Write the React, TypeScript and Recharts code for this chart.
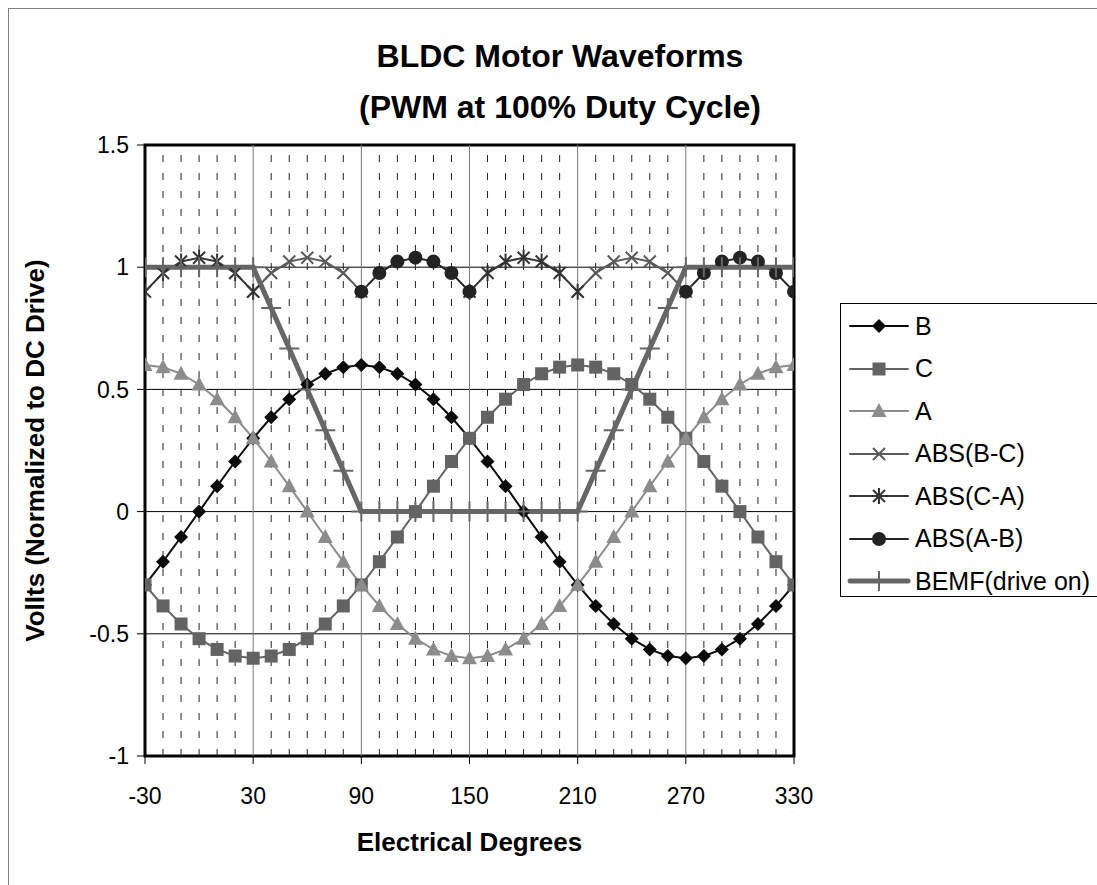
import { LineChart, Line, XAxis, YAxis, CartesianGrid, ReferenceLine, ReferenceArea, Legend, Label } from 'recharts';

const _ = null;

const degrees = [
  -30, -20, -10, 0, 10, 20, 30, 40, 50, 60, 70, 80, 90, 100, 110, 120, 130, 140, 150,
  160, 170, 180, 190, 200, 210, 220, 230, 240, 250, 260, 270, 280, 290, 300, 310, 320, 330,
];

const phaseB = [
  -0.3, -0.205, -0.104, 0, 0.104, 0.205, 0.3, 0.386, 0.46, 0.52, 0.564, 0.591, 0.6, 0.591, 0.564, 0.52, 0.46, 0.386, 0.3,
  0.205, 0.104, 0, -0.104, -0.205, -0.3, -0.386, -0.46, -0.52, -0.564, -0.591, -0.6, -0.591, -0.564, -0.52, -0.46, -0.386, -0.3,
];

const phaseC = [
  -0.3, -0.386, -0.46, -0.52, -0.564, -0.591, -0.6, -0.591, -0.564, -0.52, -0.46, -0.386, -0.3, -0.205, -0.104, 0, 0.104, 0.205, 0.3,
  0.386, 0.46, 0.52, 0.564, 0.591, 0.6, 0.591, 0.564, 0.52, 0.46, 0.386, 0.3, 0.205, 0.104, 0, -0.104, -0.205, -0.3,
];

const phaseA = [
  0.6, 0.591, 0.564, 0.52, 0.46, 0.386, 0.3, 0.205, 0.104, 0, -0.104, -0.205, -0.3, -0.386, -0.46, -0.52, -0.564, -0.591, -0.6,
  -0.591, -0.564, -0.52, -0.46, -0.386, -0.3, -0.205, -0.104, 0, 0.104, 0.205, 0.3, 0.386, 0.46, 0.52, 0.564, 0.591, 0.6,
];

// line-to-line magnitudes, only shown where each one is the largest
const absBC = [
  _, _, _, _, _, _, 0.9, 0.976, 1.023, 1.039, 1.023, 0.976, 0.9, _, _, _, _, _, _,
  _, _, _, _, _, 0.9, 0.976, 1.023, 1.039, 1.023, 0.976, 0.9, _, _, _, _, _, _,
];

const absCA = [
  0.9, 0.976, 1.023, 1.039, 1.023, 0.976, 0.9, _, _, _, _, _, _, _, _, _, _, _, 0.9,
  0.976, 1.023, 1.039, 1.023, 0.976, 0.9, _, _, _, _, _, _, _, _, _, _, _, _,
];

const absAB = [
  _, _, _, _, _, _, _, _, _, _, _, _, 0.9, 0.976, 1.023, 1.039, 1.023, 0.976, 0.9,
  _, _, _, _, _, _, _, _, _, _, _, 0.9, 0.976, 1.023, 1.039, 1.023, 0.976, 0.9,
];

const bemf = [
  1, 1, 1, 1, 1, 1, 1, 0.833, 0.667, 0.5, 0.333, 0.167, 0, 0, 0, 0, 0, 0, 0,
  0, 0, 0, 0, 0, 0, 0.167, 0.333, 0.5, 0.667, 0.833, 1, 1, 1, 1, 1, 1, 1,
];

const xTicks = [-30, 30, 90, 150, 210, 270, 330];
const xMinor = [
  -20, -10, 0, 10, 20, 40, 50, 60, 70, 80, 100, 110, 120, 130, 140, 160, 170, 180, 190, 200,
  220, 230, 240, 250, 260, 280, 290, 300, 310, 320,
];
const yTicks = [-1, -0.5, 0, 0.5, 1, 1.5];

const rows = degrees.map((deg, i) => ({
  deg,
  B: phaseB[i],
  C: phaseC[i],
  A: phaseA[i],
  'ABS(B-C)': absBC[i],
  'ABS(C-A)': absCA[i],
  'ABS(A-B)': absAB[i],
  'BEMF(drive on)': bemf[i],
}));

type Shape = 'diamond' | 'square' | 'triangle' | 'cross' | 'star' | 'circle' | 'plus';

const seriesList: { key: string; color: string; width: number; shape: Shape }[] = [
  { key: 'B', color: '#0a0a0a', width: 2, shape: 'diamond' },
  { key: 'C', color: '#636363', width: 2, shape: 'square' },
  { key: 'A', color: '#8c8c8c', width: 2, shape: 'triangle' },
  { key: 'ABS(B-C)', color: '#5a5a5a', width: 2, shape: 'cross' },
  { key: 'ABS(C-A)', color: '#333333', width: 2, shape: 'star' },
  { key: 'ABS(A-B)', color: '#232323', width: 2, shape: 'circle' },
  { key: 'BEMF(drive on)', color: '#666666', width: 5, shape: 'plus' },
];

const FONT = '"Liberation Sans", Arial, sans-serif';

const Marker = ({ shape, cx, cy, color }: { shape: Shape; cx: number; cy: number; color: string }) => {
  switch (shape) {
    case 'diamond':
      return <polygon points={`${cx},${cy - 7} ${cx + 7},${cy} ${cx},${cy + 7} ${cx - 7},${cy}`} fill={color} />;
    case 'square':
      return <rect x={cx - 6.5} y={cy - 6.5} width={13} height={13} fill={color} />;
    case 'triangle':
      return <polygon points={`${cx},${cy - 8} ${cx + 7.5},${cy + 6} ${cx - 7.5},${cy + 6}`} fill={color} />;
    case 'circle':
      return <circle cx={cx} cy={cy} r={7} fill={color} />;
    case 'cross':
      return (
        <path
          d={`M${cx - 6},${cy - 6}L${cx + 6},${cy + 6}M${cx - 6},${cy + 6}L${cx + 6},${cy - 6}`}
          stroke={color}
          strokeWidth={2}
          fill="none"
        />
      );
    case 'star':
      return (
        <path
          d={`M${cx - 6},${cy - 6}L${cx + 6},${cy + 6}M${cx - 6},${cy + 6}L${cx + 6},${cy - 6}M${cx},${cy - 8}V${cy + 8}`}
          stroke={color}
          strokeWidth={2}
          fill="none"
        />
      );
    case 'plus':
      return (
        <path
          d={`M${cx - 10},${cy}H${cx + 10}M${cx},${cy - 10}V${cy + 10}`}
          stroke={color}
          strokeWidth={2}
          fill="none"
        />
      );
  }
  return null;
};

const makeDot = (shape: Shape, color: string) => (p: any) => {
  const k = `dot-${p.index}`;
  if (p.cx == null || p.cy == null || p.value == null) return <g key={k} />;
  return (
    <g key={k}>
      <Marker shape={shape} cx={p.cx} cy={p.cy} color={color} />
    </g>
  );
};

const LegendBox = () => (
  <div
    style={{
      borderTop: '1px solid #000',
      borderLeft: '1px solid #000',
      borderBottom: '1px solid #000',
      height: 294,
      paddingTop: 1,
      boxSizing: 'border-box',
      fontFamily: FONT,
    }}
  >
    {seriesList.map((s) => (
      <div key={s.key} style={{ height: 42.5, display: 'flex', alignItems: 'center' }}>
        <svg width={70} height={30}>
          <line x1={9} x2={67} y1={15} y2={15} stroke={s.color} strokeWidth={s.width} strokeLinecap="round" />
          <Marker shape={s.shape} cx={38} cy={15} color={s.color} />
        </svg>
        <span style={{ marginLeft: 4, fontSize: 25, color: '#000', whiteSpace: 'nowrap' }}>{s.key}</span>
      </div>
    ))}
  </div>
);

const titleStyle = {
  position: 'absolute' as const,
  left: 251,
  width: 600,
  textAlign: 'center' as const,
  fontWeight: 'bold' as const,
  fontSize: 32,
  lineHeight: '32px',
  color: '#000',
};

export default function App() {
  return (
    <div
      style={{
        position: 'fixed',
        left: 8,
        top: 8,
        width: 1089,
        height: 877,
        overflow: 'hidden',
        borderTop: '1px solid #808080',
        borderLeft: '1px solid #808080',
        fontFamily: FONT,
        background: '#fff',
      }}
    >
      <div style={{ ...titleStyle, top: 31 }}>BLDC Motor Waveforms</div>
      <div style={{ ...titleStyle, top: 82 }}>(PWM at 100% Duty Cycle)</div>
      <LineChart width={1088} height={876} data={rows} margin={{ top: 136, right: 303, bottom: 89, left: 76 }}>
        <CartesianGrid vertical={false} stroke="#000" strokeWidth={1} />
        {xMinor.map((x) => (
          <ReferenceLine key={`minor-${x}`} x={x} stroke="#222" strokeWidth={1} strokeDasharray="7 11" />
        ))}
        {xTicks.slice(1, -1).map((x) => (
          <ReferenceLine key={`major-${x}`} x={x} stroke="#7a7a7a" strokeWidth={1} />
        ))}
        <ReferenceArea x1={-30} x2={330} y1={-1} y2={1.5} fill="none" stroke="#000" strokeWidth={3} />
        <XAxis
          dataKey="deg"
          type="number"
          domain={[-30, 330]}
          ticks={xTicks}
          allowDataOverflow
          height={40}
          axisLine={false}
          tickLine={{ stroke: '#000' }}
          tickSize={8}
          tickMargin={24}
          tick={{ fill: '#000', fontSize: 23 }}
        >
          <Label
            value="Electrical Degrees"
            position="bottom"
            offset={37}
            style={{ fontWeight: 'bold', fontSize: 26, fill: '#000' }}
          />
        </XAxis>
        <YAxis
          type="number"
          domain={[-1, 1.5]}
          ticks={yTicks}
          allowDataOverflow
          width={60}
          axisLine={false}
          tickLine={{ stroke: '#000' }}
          tickSize={8}
          tickMargin={8}
          tick={{ fill: '#000', fontSize: 23 }}
        >
          <Label
            value="Vollts (Normalized to DC Drive)"
            angle={-90}
            position="left"
            offset={50}
            style={{ fontWeight: 'bold', fontSize: 26, fill: '#000', textAnchor: 'middle' }}
          />
        </YAxis>
        {seriesList.map((s) => (
          <Line
            key={s.key}
            type="linear"
            dataKey={s.key}
            stroke={s.color}
            strokeWidth={s.width}
            dot={makeDot(s.shape, s.color)}
            activeDot={false}
            connectNulls={false}
            isAnimationActive={false}
          />
        ))}
        <Legend
          layout="vertical"
          align="center"
          verticalAlign="middle"
          content={() => <LegendBox />}
          wrapperStyle={{ left: 831, top: 294, width: 270, height: 294 }}
        />
      </LineChart>
    </div>
  );
}
